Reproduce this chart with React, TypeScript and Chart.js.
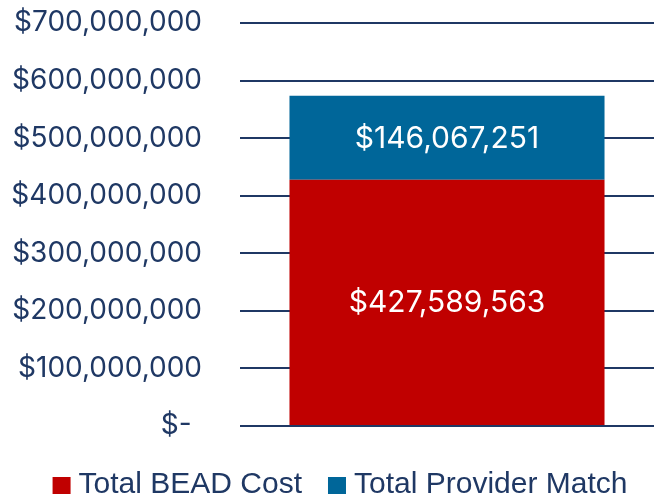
import React, { useEffect, useRef } from "react";
import { Chart, registerables } from "chart.js";

Chart.register(...registerables);

const categories = [""];
const beadCost = [427589563];
const providerMatch = [146067251];
const seriesNames = ["Total BEAD Cost", "Total Provider Match"];
const seriesColors = ["#C00000", "#006699"];
const yMax = 700000000;
const yStep = 100000000;

const NAVY = "#1F3864";

function fmtTick(v: number): string {
  if (v === 0) return "$- \u200A";
  return "$" + v.toLocaleString("en-US");
}

const labelPlugin = {
  id: "barLabels",
  afterDatasetsDraw(chart: any) {
    const ctx = chart.ctx;
    ctx.save();
    ctx.fillStyle = "#FFFFFF";
    ctx.font = "30px Inter, 'Liberation Sans', sans-serif";
    ctx.textAlign = "center";
    ctx.textBaseline = "middle";
    chart.data.datasets.forEach((ds: any, di: number) => {
      const meta = chart.getDatasetMeta(di);
      meta.data.forEach((el: any, i: number) => {
        const v = ds.data[i] as number;
        const yc = (el.y + el.base) / 2;
        ctx.fillText("$" + v.toLocaleString("en-US"), el.x, yc + 1);
      });
    });
    ctx.restore();
  },
};

const legendPlugin = {
  id: "customLegend",
  afterDraw(chart: any) {
    const ctx = chart.ctx;
    ctx.save();
    ctx.font = "30px 'Liberation Sans', Arial, sans-serif";
    ctx.textBaseline = "middle";
    ctx.textAlign = "left";
    const box = 18;
    const gapText = 8;
    const gapItem = 26;
    const items = chart.data.datasets.map((ds: any) => ({
      label: ds.label as string,
      color: ds.backgroundColor as string,
      w: ctx.measureText(ds.label).width,
    }));
    const total =
      items.reduce((a: number, it: any) => a + box + gapText + it.w, 0) +
      gapItem * (items.length - 1);
    const cx = 340;
    const cy = 485;
    let x = cx - total / 2;
    items.forEach((it: any) => {
      ctx.fillStyle = it.color;
      ctx.fillRect(x, cy - box / 2 + 1, box, box - 1);
      ctx.fillStyle = NAVY;
      ctx.fillText(it.label, x + box + gapText, cy);
      x += box + gapText + it.w + gapItem;
    });
    ctx.restore();
  },
};

export default function App() {
  const ref = useRef<HTMLCanvasElement>(null);
  useEffect(() => {
    if (!ref.current) return;
    const chart = new Chart(ref.current, {
      type: "bar",
      data: {
        labels: categories,
        datasets: [
          {
            label: seriesNames[0],
            data: beadCost,
            backgroundColor: seriesColors[0],
            barPercentage: 0.761,
            categoryPercentage: 1,
          },
          {
            label: seriesNames[1],
            data: providerMatch,
            backgroundColor: seriesColors[1],
            barPercentage: 0.761,
            categoryPercentage: 1,
          },
        ],
      },
      options: {
        responsive: true,
        maintainAspectRatio: false,
        animation: false,
        layout: { padding: { top: 23, right: 7, left: 0, bottom: 0 } },
        plugins: {
          tooltip: { enabled: false },
          legend: { display: false },
        },
        scales: {
          x: {
            stacked: true,
            grid: { display: false },
            border: { display: false },
            ticks: { display: false },
            afterFit: (s: any) => {
              s.height = 72;
            },
          },
          y: {
            stacked: true,
            min: 0,
            max: yMax,
            grid: { color: NAVY, lineWidth: 2, drawTicks: false },
            border: { display: false },
            ticks: {
              stepSize: yStep,
              color: NAVY,
              padding: 38,
              font: { family: "Inter, 'Liberation Sans', sans-serif", size: 28 },
              callback: (v: any) => fmtTick(Number(v)),
            },
            afterFit: (s: any) => {
              s.width = 240;
              s.paddingTop = 0;
              s.paddingBottom = 0;
            },
          },
        },
      },
      plugins: [labelPlugin, legendPlugin],
    });
    return () => chart.destroy();
  }, []);
  return (
    <div style={{ position: "fixed", left: 0, top: 0, width: 661, height: 498 }}>
      <canvas ref={ref} />
    </div>
  );
}
